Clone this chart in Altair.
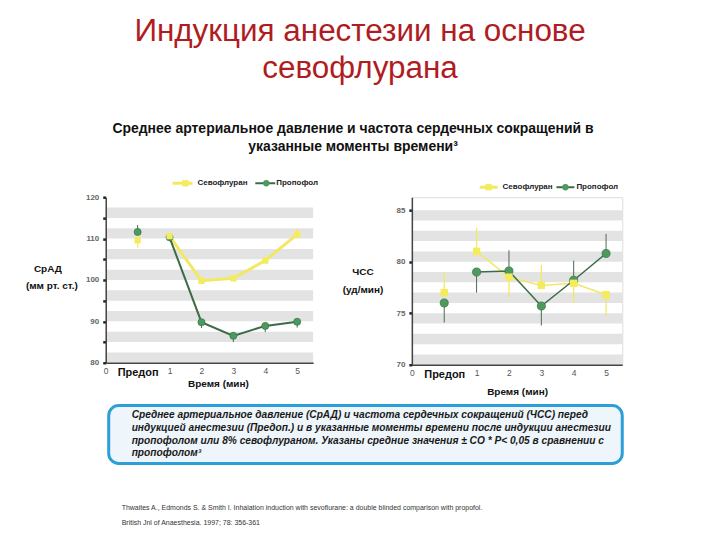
import altair as alt
import pandas as pd

# ---------------- data ----------------
positions = [1, 2, 3, 4, 5, 6]
time_labels = ["Предоп", "1", "2", "3", "4", "5"]
series_names = ["Севофлуран", "Пропофол"]

# Mean arterial pressure (mm Hg)
map_sevo = [109.6, 110.6, 99.8, 100.4, 104.7, 111.0]
map_sevo_err = [107.8, 110.6, 99.8, 100.4, 104.7, 112.3]
map_prop = [111.6, 110.3, 89.8, 86.5, 88.9, 89.9]
map_prop_err = [113.3, 110.3, 88.4, 85.0, 87.4, 88.5]

# Heart rate (beats/min)
hr_sevo = [77.0, 81.0, 78.5, 77.7, 77.9, 76.8]
hr_sevo_err = [79.0, 83.3, 76.6, 79.7, 76.0, 74.7]
hr_prop = [76.0, 79.0, 79.1, 75.7, 78.2, 80.8]
hr_prop_err = [74.1, 77.0, 81.1, 73.8, 80.1, 82.7]

map_bands = [80, 85, 90, 95, 100, 105, 110, 115]
map_band_w = 2.5
hr_bands = [70, 72, 74, 76, 78, 80, 82, 84]
hr_band_w = 1.0

FONT = "Liberation Sans"
YELLOW = "#f2e862"
YELLOW_PT = "#f4ec5a"
GREEN_LINE = "#3d6b48"
GREEN_PT = "#4e9a5e"
STRIPE = "#e3e3e3"


def series_df(vals, errs, name):
    return pd.DataFrame({"pos": positions, "label": time_labels,
                         "value": vals, "err": errs, "series": name})


def one():
    return pd.DataFrame({"a": [0]})


def txt(x, y, s, size, weight="normal", color="#222", align="center",
        style="normal", baseline="middle"):
    return alt.Chart(one()).mark_text(
        text=s, fontSize=size, fontWeight=weight, color=color, align=align,
        fontStyle=style, baseline=baseline, font=FONT
    ).encode(x=alt.value(x), y=alt.value(y))


def legend(y, x0, x1, xs, xt0, x2a, x2b, xc, xt1):
    return [
        alt.Chart(one()).mark_rule(color=YELLOW, strokeWidth=3).encode(
            x=alt.value(x0), x2=alt.value(x1), y=alt.value(y)),
        alt.Chart(one()).mark_square(color=YELLOW_PT, size=40, opacity=1).encode(
            x=alt.value(xs), y=alt.value(y)),
        txt(xt0, y, series_names[0], 8, "bold", "#222", "left"),
        alt.Chart(one()).mark_rule(color=GREEN_LINE, strokeWidth=2).encode(
            x=alt.value(x2a), x2=alt.value(x2b), y=alt.value(y)),
        alt.Chart(one()).mark_circle(color=GREEN_PT, size=40, opacity=1).encode(
            x=alt.value(xc), y=alt.value(y)),
        txt(xt1, y, series_names[1], 8, "bold", "#222", "left"),
    ]


def panel(sevo, prop, bands, band_w, ydom, yvals, ylabel_expr, width, height,
          line_w_sevo, line_w_prop, pt_size):
    xscale = alt.Scale(domain=[0, 6.5], nice=False, zero=False)
    yscale = alt.Scale(domain=ydom, nice=False, zero=False)
    xaxis = alt.Axis(
        values=[0, 1, 2, 3, 4, 5, 6], title=None, grid=False, ticks=False,
        labelExpr="datum.value == 1 ? 'Предоп' : '' + (datum.value == 0 ? 0 : datum.value - 1)",
        labelFontSize={"condition": {"test": "datum.value == 1", "value": 11}, "value": 8.5},
        labelFontWeight={"condition": {"test": "datum.value == 1", "value": "bold"}, "value": "normal"},
        labelColor={"condition": {"test": "datum.value == 1", "value": "#111"}, "value": "#555"},
        labelFlush=False, labelOverlap=False, labelPadding=4, zindex=1,
        domainColor="#444", domainWidth=1.5, labelFont=FONT)
    yaxis = alt.Axis(
        values=yvals, title=None, grid=False, labelExpr=ylabel_expr,
        tickSize=3, tickWidth=2.5, tickColor="#222", labelFontSize=8,
        labelFontWeight="bold", labelColor="#666", labelPadding=4, zindex=1,
        domainColor="#444", domainWidth=1.5, labelFont=FONT, labelFlush=False,
        labelOverlap=False)

    bdf = pd.DataFrame({"lo": bands, "hi": [b + band_w for b in bands]})
    stripes = alt.Chart(bdf).mark_rect(color=STRIPE).encode(
        x=alt.value(0), x2=alt.value(width),
        y=alt.Y("lo:Q", scale=yscale, axis=yaxis), y2="hi:Q")

    layers = [stripes]
    sdf, pdf = sevo, prop
    X = lambda: alt.X("pos:Q", scale=xscale, axis=xaxis)
    Y = lambda: alt.Y("value:Q", scale=yscale, axis=yaxis)

    layers.append(alt.Chart(sdf).mark_rule(color=YELLOW, strokeWidth=1.3).encode(
        x=X(), y=Y(), y2="err:Q"))
    layers.append(alt.Chart(pdf).mark_rule(color="#4a6a50", strokeWidth=1).encode(
        x=X(), y=Y(), y2="err:Q"))
    layers.append(alt.Chart(sdf[sdf.pos >= 2]).mark_line(
        color=YELLOW, strokeWidth=line_w_sevo).encode(x=X(), y=Y()))
    layers.append(alt.Chart(pdf[pdf.pos >= 2]).mark_line(
        color=GREEN_LINE, strokeWidth=line_w_prop).encode(x=X(), y=Y()))
    layers.append(alt.Chart(pdf).mark_circle(
        color=GREEN_PT, size=pt_size + 10, opacity=1, stroke="#3a7a48", strokeWidth=0.8
    ).encode(x=X(), y=Y()))
    layers.append(alt.Chart(sdf).mark_square(
        color=YELLOW_PT, size=pt_size, opacity=1).encode(x=X(), y=Y()))
    return layers


# ---------------- left panel (origin at page 105,196) ----------------
LW, LH = 208, 166
left_layers = [
    alt.Chart(one()).mark_rect(color="white").encode(
        x=alt.value(-97), x2=alt.value(607), y=alt.value(-188), y2=alt.value(336))
]
left_layers += panel(series_df(map_sevo, map_sevo_err, series_names[0]),
                     series_df(map_prop, map_prop_err, series_names[1]),
                     map_bands, map_band_w, [80, 120],
                     [80, 85, 90, 95, 100, 105, 110, 115, 120],
                     "datum.value % 10 == 0 ? datum.label : ''",
                     LW, LH, 3, 2, 40)
left_layers += legend(-14, 67, 87, 80, 92, 150, 170, 161, 171)
left_layers += [
    # page title
    txt(255, -157, "Индукция анестезии на основе", 31.5, "normal", "#b01c22", baseline="alphabetic"),
    txt(255, -120, "севофлурана", 31.5, "normal", "#b01c22", baseline="alphabetic"),
    txt(248, -64, "Среднее артериальное давление и частота сердечных сокращений в",
        14, "bold", "#111", baseline="alphabetic"),
    txt(248, -46, "указанные моменты времени³", 14, "bold", "#111", baseline="alphabetic"),
    # axis titles
    txt(-58, 72, "СрАД", 10, "bold", "#111"),
    txt(-54, 89, "(мм рт. ст.)", 10, "bold", "#111"),
    txt(113, 187, "Время (мин)", 10, "bold", "#111"),
    # note box
    alt.Chart(one()).mark_rect(fill="#eef5fb", stroke="#2c9fd8", strokeWidth=3,
                               cornerRadius=10).encode(
        x=alt.value(3), x2=alt.value(518), y=alt.value(209), y2=alt.value(267)),
    txt(26, 218, "Среднее артериальное давление (СрАД) и частота сердечных сокращений (ЧСС) перед",
        10.2, "bold", "#1a1a1a", "left", "italic"),
    txt(26, 231, "индукцией анестезии (Предоп.) и в указанные моменты времени после индукции анестезии",
        10.2, "bold", "#1a1a1a", "left", "italic"),
    txt(26, 244, "пропофолом или 8% севофлураном. Указаны средние значения ± СО  * P< 0,05 в сравнении с",
        10.2, "bold", "#1a1a1a", "left", "italic"),
    txt(26, 257, "пропофолом³", 10.2, "bold", "#1a1a1a", "left", "italic"),
    # reference
    txt(16, 312, "Thwaites A., Edmonds S. & Smith I. Inhalation induction with sevoflurane: a double blinded comparison with propofol.",
        7, "normal", "#333", "left"),
    txt(16, 327, "British Jnl of Anaesthesia. 1997; 78: 356-361", 7, "normal", "#333", "left"),
]
left = alt.layer(*left_layers).properties(width=LW, height=LH)

# ---------------- right panel (origin at page 412,196) ----------------
RW, RH = 211, 168
right_layers = panel(series_df(hr_sevo, hr_sevo_err, series_names[0]),
                     series_df(hr_prop, hr_prop_err, series_names[1]),
                     hr_bands, hr_band_w, [70, 86.26], [70, 75, 80, 85],
                     "datum.label", RW, RH, 1.5, 1.5, 55)
right_layers += legend(-10, 68, 86, 77, 91, 145, 163, 154, 165)
right_layers += [
    txt(-49, 75, "ЧСС", 10, "bold", "#111"),
    txt(-49, 93, "(уд/мин)", 10, "bold", "#111"),
    txt(106, 195, "Время (мин)", 10, "bold", "#111"),
]
right = alt.layer(*right_layers).properties(width=RW, height=RH)

chart = alt.hconcat(left, right, spacing=99, bounds="flush", padding=0).configure_view(
    stroke=None).configure(font=FONT)

chart.save("out.html", embed_options={"renderer": "svg", "actions": False})
